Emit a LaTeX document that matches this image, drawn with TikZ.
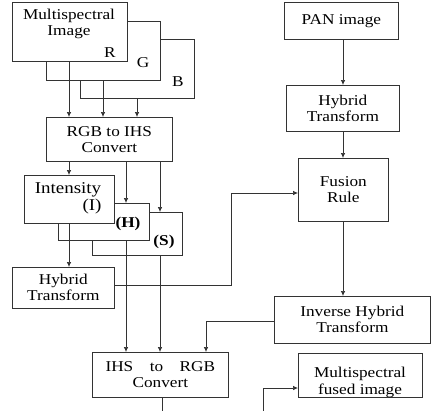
\documentclass[tikz,border=0pt]{standalone}
\usepackage{fontspec}
\setmainfont[FakeStretch=1.15]{Liberation Serif}
\usetikzlibrary{arrows.meta}
\begin{document}
\begin{tikzpicture}[x=1pt,y=-1pt,
  box/.style={draw=black!80, line width=0.7pt, fill=white, inner sep=0pt, anchor=north west,
              font=\fontsize{15}{16}\selectfont, align=center},
  lbl/.style={font=\fontsize{15}{16}\selectfont, inner sep=0pt, anchor=base},
  arr/.style={draw=black!80, line width=0.7pt, -{Latex[length=5pt,width=4.5pt]}},
  ln/.style={draw=black!80, line width=0.7pt}]
\useasboundingbox (0,0) rectangle (431,410);
% columns / bend points
\coordinate (x1) at (69,0);
\coordinate (x2) at (103,0);
\coordinate (x3) at (137,0);
\coordinate (x4) at (126,0);
\coordinate (x5) at (160,0);
\coordinate (x8) at (343,0);
\coordinate (x9) at (162,0);
\coordinate (hl) at (231,285);
\coordinate (hu) at (231,193);
\coordinate (il) at (206,321);
\coordinate (e1) at (162,412);
\coordinate (e2) at (263,412);
\coordinate (e3) at (263,388);
% stacked R G B boxes
\node[box, minimum width=114pt, minimum height=59pt] (B) at (80,39) {};
\node[box, minimum width=114pt, minimum height=59pt] (G) at (46,21) {};
\node[box, minimum width=115pt, minimum height=59pt] (R) at (12,2) {};
\node[lbl] (tms) at (69,19) {Multispectral};
\node[lbl] (tim) at (69,35) {Image};
\node[lbl] (tR) at (110,57) {R};
\node[lbl] (tG) at (143,67) {G};
\node[lbl] (tB) at (178,86) {B};
% RGB to IHS
\node[box, minimum width=126pt, minimum height=44pt] (rgb) at (46,117) {RGB to IHS\\Convert};
% I H S boxes
\node[box, minimum width=90pt, minimum height=43pt] (S) at (92,212) {};
\node[box, minimum width=91pt, minimum height=37pt] (H) at (58,203) {};
\node[box, minimum width=90pt, minimum height=48pt] (I) at (24,175) {};
\node[lbl, font=\fontsize{16.5}{18}\selectfont] (tint) at (68,193) {Intensity};
\node[lbl, font=\fontsize{16.5}{18}\selectfont] (tI) at (92,210) {(I)};
\node[lbl, font=\fontsize{15}{16}\selectfont\bfseries] (tH) at (128,227) {(H)};
\node[lbl, font=\fontsize{15}{16}\selectfont\bfseries] (tS) at (164,245) {(S)};
% other boxes
\node[box, minimum width=102pt, minimum height=41pt] (hybL) at (12,267) {Hybrid\\Transform};
\node[box, minimum width=136pt, minimum height=45pt] (ihs) at (92,352) {IHS\hspace{1.1em}to\hspace{1.1em}RGB\\Convert};
\node[box, minimum width=114pt, minimum height=37pt] (pan) at (284,2) {PAN image};
\node[box, minimum width=113pt, minimum height=46pt] (hybR) at (286,85) {Hybrid\\Transform};
\node[box, minimum width=90pt, minimum height=63pt] (fus) at (298,158) {Fusion\\Rule};
\node[box, minimum width=156pt, minimum height=47pt] (inv) at (274,296) {Inverse Hybrid\\Transform};
\node[box, minimum width=124pt, minimum height=44pt] (out) at (298,353) {};
\node[lbl] (to1) at (360,377) {Multispectral};
\node[lbl] (to2) at (360,394) {fused image};
% connectors
\draw[arr] (R.south -| x1) -- (rgb.north -| x1);
\draw[arr] (G.south -| x2) -- (rgb.north -| x2);
\draw[arr] (B.south -| x3) -- (rgb.north -| x3);
\draw[arr] (rgb.south -| x1) -- (I.north -| x1);
\draw[arr] (rgb.south -| x4) -- (H.north -| x4);
\draw[arr] (rgb.south -| x5) -- (S.north -| x5);
\draw[arr] (I.south -| x1) -- (hybL.north -| x1);
\draw[arr] (H.south -| x4) -- (ihs.north -| x4);
\draw[arr] (S.south -| x5) -- (ihs.north -| x5);
\draw[arr] (hybL.east |- hl) -- (hl) -- (hu) -- (fus.west |- hu);
\draw[arr] (inv.west |- il) -- (il) -- (ihs.north -| il);
\draw[arr] (pan.south -| x8) -- (hybR.north -| x8);
\draw[arr] (hybR.south -| x8) -- (fus.north -| x8);
\draw[arr] (fus.south -| x8) -- (inv.north -| x8);
\draw[ln] (ihs.south -| x9) -- (e1);
\draw[arr] (e2) -- (e3) -- (out.west |- e3);
\end{tikzpicture}
\end{document}
